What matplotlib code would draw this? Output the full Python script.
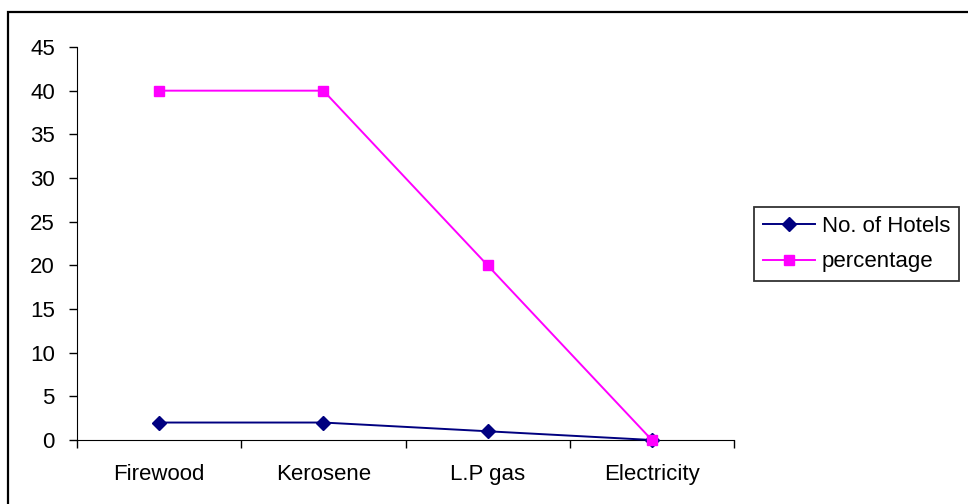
import matplotlib.pyplot as plt
from matplotlib.patches import Rectangle

categorias = ["Firewood", "Kerosene", "L.P gas", "Electricity"]
num_hoteis = [2, 2, 1, 0]
percentagem = [40, 40, 20, 0]

plt.rcParams['font.family'] = ['Liberation Sans', 'DejaVu Sans']
plt.rcParams['font.size'] = 16

fig = plt.figure(figsize=(9.68, 5.04), dpi=100)
W, H = 968, 504

# moldura externa (corta fora da imagem a direita e embaixo)
fig.patches.append(Rectangle((8 / W, -0.1), 2, 1 - 12 / H + 0.1,
                             transform=fig.transFigure, fill=False,
                             edgecolor='black', linewidth=1.6))

ax = fig.add_axes([77 / W, 1 - 440 / H, (734 - 77) / W, (440 - 47) / H])
x = range(len(categorias))
ax.plot(x, num_hoteis, color='#000080', marker='D', markersize=7,
        linewidth=1.4, label='No. of Hotels', clip_on=False, zorder=3)
ax.plot(x, percentagem, color='#FF00FF', marker='s', markersize=7,
        linewidth=1.4, label='percentage', clip_on=False, zorder=3)

ax.set_xlim(-0.5, len(categorias) - 0.5)
ax.set_ylim(0, 45)
ax.set_yticks(range(0, 46, 5))
ax.set_xticks([i - 0.5 for i in range(len(categorias) + 1)])
ax.set_xticklabels([])
ax.set_xticks(list(x), minor=True)
ax.set_xticklabels(categorias, minor=True)
ax.tick_params(axis='x', which='minor', length=0, pad=17)
ax.tick_params(axis='x', which='major', direction='out', length=6, width=1)
ax.tick_params(axis='y', direction='out', length=6, width=1, pad=10)
ax.spines['top'].set_visible(False)
ax.spines['right'].set_visible(False)

leg = fig.legend(loc='upper left', bbox_to_anchor=(754 / W, 1 - 207 / H),
                 frameon=True, fancybox=False, edgecolor='black',
                 handlelength=2.35, borderpad=0.4, labelspacing=0.65,
                 handletextpad=0.3, borderaxespad=0)
leg.get_frame().set_linewidth(1.3)

fig.savefig('out.png', dpi=100)
